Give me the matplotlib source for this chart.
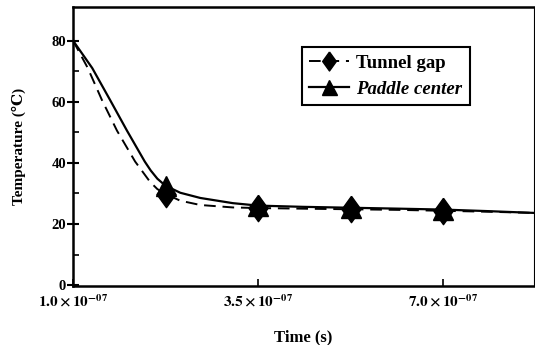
import matplotlib
matplotlib.use("Agg")
import matplotlib.pyplot as plt
from matplotlib.ticker import FixedLocator

plt.rcParams['font.family'] = ['Liberation Serif', 'DejaVu Serif']
plt.rcParams['mathtext.fontset'] = 'stix'

# time axis in units of 1e-7 s (positions along the drawn axis)
t_gap = [1.0, 1.2, 1.39, 1.595, 1.84, 2.04, 2.14, 2.25, 2.45, 2.72, 3.16, 3.5, 4.1, 4.75, 5.4, 6.0, 6.6, 7.24]
temp_gap = [80, 71, 60.6, 50.5, 40.4, 33.8, 31.4, 29.8, 27.6, 26.2, 25.4, 25.2, 25.0, 24.8, 24.6, 24.3, 24.0, 23.6]

t_pad = [1.0, 1.26, 1.5, 1.73, 1.97, 2.05, 2.14, 2.25, 2.45, 2.72, 3.16, 3.5, 4.1, 4.75, 5.4, 6.0, 6.6, 7.24]
temp_pad = [80, 71, 60.6, 50.5, 40.4, 37.5, 34.8, 32.5, 30.2, 28.5, 26.8, 26.0, 25.6, 25.3, 25.0, 24.7, 24.2, 23.6]

marker_idx = [7, 11, 13, 15]

xtick_pos = [1.0, 3.5, 6.0]
xtick_labels = [r'$\mathbf{1.0\times10^{-07}}$', r'$\mathbf{3.5\times10^{-07}}$', r'$\mathbf{7.0\times10^{-07}}$']
ytick_pos = [0, 20, 40, 60, 80]

diamond = [(0, 1), (0.72, 0), (0, -1), (-0.72, 0), (0, 1)]

fig = plt.figure(figsize=(5.35, 3.45), dpi=100)
ax = fig.add_axes([0.1364, 0.171, 0.862, 0.809])

ax.plot(t_gap, temp_gap, color='black', lw=1.4, ls=(0, (6, 3.5)),
        marker=diamond, markersize=19, markevery=marker_idx, markerfacecolor='black',
        markeredgecolor='black', label='Tunnel gap', zorder=3)
ax.plot(t_pad, temp_pad, color='black', lw=1.6, ls='-',
        marker='^', markersize=15, markevery=marker_idx, markerfacecolor='black',
        markeredgecolor='black', label='Paddle center', zorder=2)

ax.set_xlim(1.0, 7.23)
ax.set_ylim(-0.3, 91)

ax.set_xticks(xtick_pos)
ax.set_xticklabels(xtick_labels, fontsize=11)
ax.set_yticks(ytick_pos)
ax.set_yticklabels([str(v) for v in ytick_pos], fontsize=10.5, fontweight='bold')
ax.yaxis.set_minor_locator(FixedLocator([10, 30, 50, 70]))

ax.tick_params(axis='x', direction='in', length=5, width=1.2, pad=5)
ax.tick_params(axis='y', which='major', direction='inout', length=8, width=1.5, pad=1)
ax.tick_params(axis='y', which='minor', direction='in', length=4, width=1.2)

for s in ax.spines.values():
    s.set_linewidth(1.8)
ax.spines['right'].set_linewidth(0.8)

ax.set_ylabel('Temperature (\u2103)', fontsize=11, fontweight='bold', labelpad=18)
ax.set_xlabel('Time (s)', fontsize=12, fontweight='bold', labelpad=14)

leg = ax.legend(loc='upper left', bbox_to_anchor=(0.496, 0.855), fancybox=False,
                edgecolor='black', framealpha=1, fontsize=13.5, handlelength=2.1,
                handletextpad=0.4, borderpad=0.4, labelspacing=0.45,
                markerscale=0.72, borderaxespad=0)
leg.get_frame().set_linewidth(1.5)
for txt in leg.get_texts():
    txt.set_fontweight('bold')
leg.get_texts()[1].set_fontstyle('italic')

fig.savefig('out.png', dpi=100)
